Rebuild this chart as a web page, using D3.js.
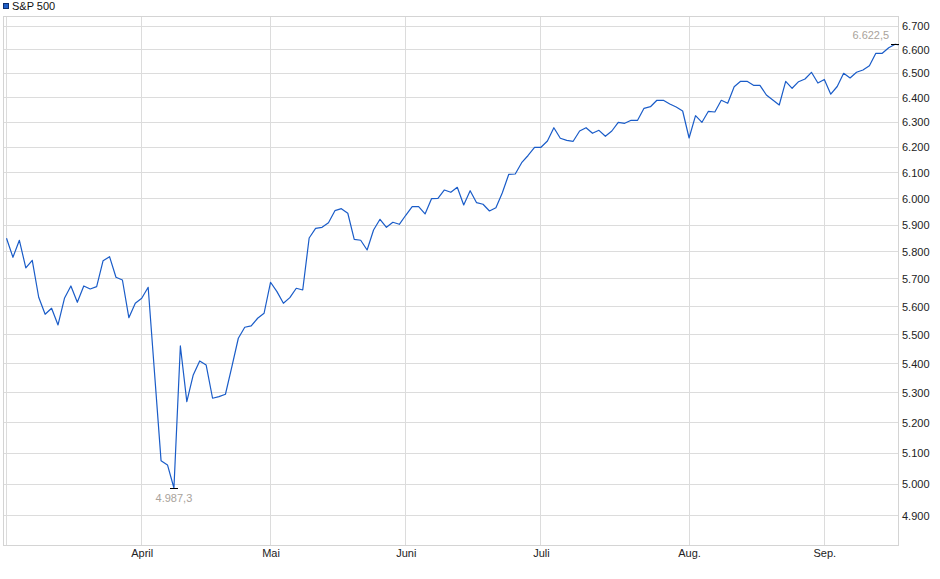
<!DOCTYPE html>
<html>
<head>
<meta charset="utf-8">
<script src="https://cdn.jsdelivr.net/npm/d3@7"></script>
<style>
  body { margin: 0; background: #fff; }
  svg { display: block; font-family: "Liberation Sans", Arial, sans-serif; }
</style>
</head>
<body>
<div id="chart"></div>
<script>
// S&P 500 daily closes, one value per trading day (early March - mid September)
var closes = [
  5850.2, 5779.6, 5842.7, 5740.2, 5768.5, 5633.8, 5572.9, 5594.3, 5534.9, 5630.1,
  5674.6, 5615.7, 5674.6, 5663.7, 5672.0, 5767.0, 5781.8, 5706.2, 5696.3, 5560.8,
  5612.2, 5630.1, 5669.9, 5364.4, 5075.2, 5061.3, 4987.3, 5461.2, 5270.2, 5360.9,
  5409.1, 5395.3, 5281.7, 5287.1, 5295.2, 5389.4, 5488.1, 5526.8, 5531.4, 5558.7,
  5576.5, 5688.0, 5654.0, 5612.2, 5632.3, 5666.3, 5660.1, 5851.3, 5887.6, 5891.4,
  5908.8, 5954.3, 5961.9, 5944.4, 5846.4, 5842.7, 5806.6, 5881.3, 5921.6, 5891.4,
  5910.3, 5902.7, 5936.8, 5969.5, 5969.5, 5941.8, 6000.1, 6001.6, 6033.5, 6024.6,
  6043.9, 5976.0, 6030.8, 5984.8, 5978.7, 5953.1, 5965.7, 6023.1, 6094.3, 6095.5,
  6139.7, 6168.0, 6200.4, 6200.4, 6225.4, 6278.5, 6236.2, 6228.1, 6224.2, 6265.3,
  6278.5, 6256.1, 6268.0, 6244.1, 6265.3, 6300.2, 6296.2, 6308.2, 6308.2, 6356.8,
  6363.3, 6389.4, 6389.4, 6374.3, 6362.1, 6345.8, 6237.3, 6326.8, 6300.2, 6344.6,
  6341.8, 6389.4, 6377.1, 6445.1, 6467.4, 6467.4, 6450.9, 6450.9, 6411.1, 6390.6,
  6370.2, 6467.4, 6438.6, 6465.8, 6477.0, 6504.7, 6460.4, 6474.9, 6414.3, 6446.0,
  6500.5, 6481.1, 6504.7, 6514.3, 6532.2, 6584.2, 6584.2, 6607.7, 6622.5, 6618.0
];

// month grid lines sit on the first point of each month
var monthLabels = ["März", "April", "Mai", "Juni", "Juli", "Aug.", "Sep."];
var monthIndex = [0, 21, 41, 62, 83, 106, 127];

var yTicks = [4900, 5000, 5100, 5200, 5300, 5400, 5500, 5600, 5700,
              5800, 5900, 6000, 6100, 6200, 6300, 6400, 6500, 6600, 6700];

var seriesName = "S&P 500";

var width = 940, height = 579;
var plot = {left: 3, right: 898, top: 16, bottom: 545};

var de = d3.formatLocale({decimal: ",", thousands: ".", grouping: [3], currency: ["", " €"]});
var fmtAxis = de.format(",.0f");
var fmtVal = de.format(",.1f");

var svg = d3.select("#chart")
  .append("svg")
    .attr("width", width)
    .attr("height", height);

// x runs on the trading day index, last point sits just past the frame
var x = d3.scaleLinear()
  .domain([0, closes.length - 1])
  .range([6.5, 901.6]);

// price axis is logarithmic
var y = d3.scaleLog()
  .domain([4808, 6743])
  .range([545.3, 16]);

function px(v) { return Math.floor(v) + 0.5; }

var grid = svg.append("g")
  .attr("stroke", "#dcdcdc")
  .attr("stroke-width", 1)
  .attr("shape-rendering", "crispEdges");

grid.selectAll("line.h")
  .data(yTicks)
  .enter().append("line")
    .attr("class", "h")
    .attr("x1", plot.left)
    .attr("x2", plot.right)
    .attr("y1", function(d) { return px(y(d)); })
    .attr("y2", function(d) { return px(y(d)); });

grid.selectAll("line.v")
  .data(monthIndex)
  .enter().append("line")
    .attr("class", "v")
    .attr("x1", function(d) { return px(x(d)); })
    .attr("x2", function(d) { return px(x(d)); })
    .attr("y1", plot.top)
    .attr("y2", plot.bottom + 1);

// frame
svg.append("rect")
  .attr("x", plot.left + 0.5)
  .attr("y", plot.top + 0.5)
  .attr("width", plot.right - plot.left)
  .attr("height", plot.bottom - plot.top)
  .attr("fill", "none")
  .attr("stroke", "#d4d4d4")
  .attr("shape-rendering", "crispEdges");

svg.append("clipPath")
  .attr("id", "clip")
  .append("rect")
    .attr("x", plot.left)
    .attr("y", plot.top)
    .attr("width", plot.right - plot.left + 0.5)
    .attr("height", plot.bottom - plot.top);

var line = d3.line()
  .x(function(d, i) { return x(i); })
  .y(function(d) { return y(d); });

svg.append("path")
  .datum(closes)
  .attr("clip-path", "url(#clip)")
  .attr("fill", "none")
  .attr("stroke", "#1a5cc8")
  .attr("stroke-width", 1.2)
  .attr("stroke-linejoin", "round")
  .attr("d", line);

// y axis labels on the right
svg.append("g")
  .selectAll("text")
  .data(yTicks)
  .enter().append("text")
    .attr("x", 902)
    .attr("y", function(d) { return y(d); })
    .attr("dy", "0.36em")
    .attr("font-size", 11)
    .attr("fill", "#222")
    .text(function(d) { return fmtAxis(d); });

// month labels (the first one is cut off in the original, so skip it)
svg.append("g")
  .selectAll("text")
  .data(monthIndex)
  .enter().append("text")
    .filter(function(d) { return x(d) > 20; })
    .attr("x", function(d) { return x(d) + 0.5; })
    .attr("y", 557)
    .attr("text-anchor", "middle")
    .attr("font-size", 11)
    .attr("fill", "#222")
    .text(function(d) { return monthLabels[monthIndex.indexOf(d)]; });

// low and high markers
var iMin = d3.minIndex(closes);
var iMax = d3.maxIndex(closes);

svg.append("line")
  .attr("x1", x(iMin) - 4).attr("x2", x(iMin) + 4)
  .attr("y1", px(y(closes[iMin]))).attr("y2", px(y(closes[iMin])))
  .attr("stroke", "#000")
  .attr("shape-rendering", "crispEdges");

svg.append("text")
  .attr("x", x(iMin))
  .attr("y", y(closes[iMin]) + 13.5)
  .attr("text-anchor", "middle")
  .attr("font-size", 11)
  .attr("fill", "#a9a39b")
  .text(fmtVal(closes[iMin]));

svg.append("line")
  .attr("x1", x(iMax) - 4).attr("x2", Math.min(x(iMax) + 4, plot.right + 1))
  .attr("y1", px(y(closes[iMax]))).attr("y2", px(y(closes[iMax])))
  .attr("stroke", "#000")
  .attr("shape-rendering", "crispEdges");

svg.append("text")
  .attr("x", x(iMax) - 6)
  .attr("y", y(closes[iMax]) - 5)
  .attr("text-anchor", "end")
  .attr("font-size", 11)
  .attr("fill", "#a9a39b")
  .text(fmtVal(closes[iMax]));

// legend
svg.append("rect")
  .attr("x", 3.5).attr("y", 3.5)
  .attr("width", 5).attr("height", 5)
  .attr("fill", "#1f5fc8")
  .attr("stroke", "#0d2f6e")
  .attr("shape-rendering", "crispEdges");

svg.append("text")
  .attr("x", 12)
  .attr("y", 10)
  .attr("font-size", 11)
  .attr("fill", "#111")
  .text(seriesName);
</script>
</body>
</html>
